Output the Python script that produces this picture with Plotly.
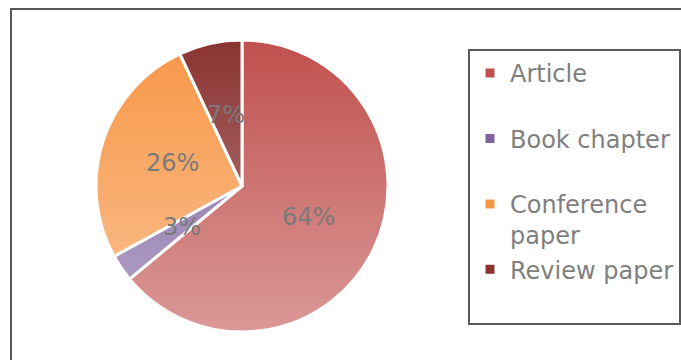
import base64
import math

import plotly.graph_objects as go

# Publication types and their share of the collection (%)
categories = ["Article", "Book chapter", "Conference paper", "Review paper"]
shares = [64, 3, 26, 7]
slice_colors = ["#C0504D", "#8064A2", "#F79646", "#8A3331"]

W, H = 681, 360
CX, CY, R = 242, 186, 146          # pie centre and radius (px)
TEXT_COLOR = "#7a7a7a"
FONT = "DejaVu Sans"


def legend_label(name, width=12):
    """Two-line legend text so every entry occupies the same height."""
    if len(name) > width and " " in name:
        first, second = name.rsplit(" ", 1)
    else:
        first, second = name, "\u00a0"
    return first + "<br>" + second


def px_x(x):
    return x / W


def px_y(y):
    return 1 - y / H


fig = go.Figure(
    go.Pie(
        labels=[legend_label(c) for c in categories],
        values=shares,
        sort=False,
        direction="clockwise",
        rotation=0,
        textinfo="none",
        hoverinfo="label+percent",
        marker=dict(colors=slice_colors, line=dict(color="white", width=3)),
        domain=dict(x=[px_x(CX - R), px_x(CX + R)],
                    y=[px_y(CY + R), px_y(CY - R)]),
    )
)

# Vertical light-to-white sheen laid over the pie
svg = (
    "<svg xmlns='http://www.w3.org/2000/svg' width='100' height='100' "
    "viewBox='0 0 100 100' preserveAspectRatio='none'>"
    "<defs><linearGradient id='g' x1='0' y1='0' x2='0' y2='1'>"
    "<stop offset='0' stop-color='white' stop-opacity='0'/>"
    "<stop offset='1' stop-color='white' stop-opacity='0.42'/>"
    "</linearGradient></defs>"
    "<circle cx='50' cy='50' r='50' fill='url(#g)'/></svg>"
)
sheen = "data:image/svg+xml;base64," + base64.b64encode(svg.encode()).decode()
fig.add_layout_image(
    source=sheen, xref="paper", yref="paper",
    x=px_x(CX - R - 2), y=px_y(CY - R - 2),
    sizex=(2 * R + 4) / W, sizey=(2 * R + 4) / H,
    xanchor="left", yanchor="top", sizing="stretch", layer="above",
)

# Percentage labels at half radius along each slice's mid-angle
total = sum(shares)
start = 0.0
for v in shares:
    mid = (start + v / 2) / total * 2 * math.pi
    start += v
    lx = CX + 0.5 * R * math.sin(mid)
    ly = CY - 0.5 * R * math.cos(mid)
    fig.add_annotation(
        x=px_x(lx), y=px_y(ly), xref="paper", yref="paper",
        text=f"{round(100 * v / total)}%", showarrow=False,
        font=dict(family=FONT, size=24, color=TEXT_COLOR),
        xanchor="center", yanchor="middle",
    )

# Chart-area frame
fig.add_shape(
    type="rect", xref="paper", yref="paper",
    x0=px_x(11), x1=1.02, y0=-0.05, y1=px_y(9),
    line=dict(color="#595959", width=2), fillcolor="rgba(0,0,0,0)",
    layer="below",
)

fig.update_layout(
    width=W, height=H,
    margin=dict(l=0, r=0, t=0, b=0, pad=0),
    paper_bgcolor="white",
    plot_bgcolor="white",
    font=dict(family=FONT, color=TEXT_COLOR),
    showlegend=True,
    legend=dict(
        x=px_x(468), y=px_y(49), xanchor="left", yanchor="top",
        bgcolor="white", bordercolor="#595959", borderwidth=2,
        font=dict(family=FONT, size=24, color="#7f7f7f"),
        valign="top", traceorder="normal",
    ),
)

fig.write_html("out.html")
